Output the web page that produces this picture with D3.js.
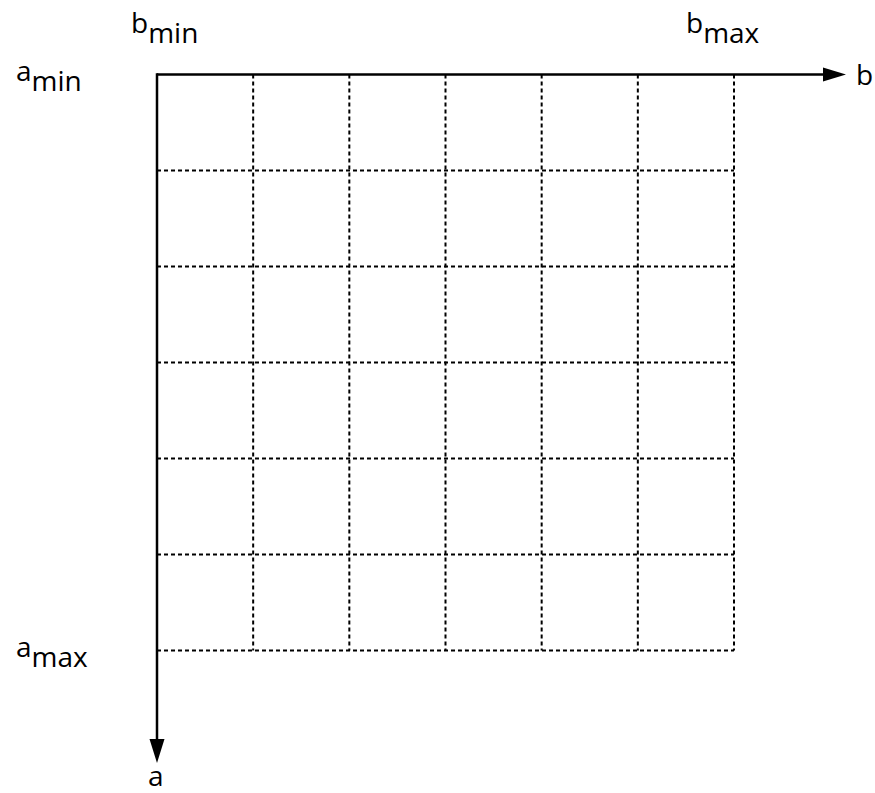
<!DOCTYPE html>
<html><head><meta charset="utf-8">
<script src="https://cdn.jsdelivr.net/npm/d3@7"></script>
<style>html,body{margin:0;padding:0;background:#fff;}</style>
</head><body>
<svg id="c" width="875" height="793"></svg>
<script>
// data
const bSteps = [0, 1, 2, 3, 4, 5, 6];
const aSteps = [0, 1, 2, 3, 4, 5, 6];
const bLabels = [{base: "b", sub: "min", v: 0}, {base: "b", sub: "max", v: 6}];
const aLabels = [{base: "a", sub: "min", v: 0}, {base: "a", sub: "max", v: 6}];
const axisNames = {b: "b", a: "a"};

const svg = d3.select("#c");
const font = "'Open Sans', 'Noto Sans', sans-serif";
const x = d3.scaleLinear().domain([0, 6]).range([157, 734]);
const y = d3.scaleLinear().domain([0, 6]).range([74.5, 650.5]);

// dashed grid
const g = svg.append("g").attr("stroke", "#000").attr("stroke-width", 2)
  .attr("stroke-dasharray", "4,3").attr("fill", "none");
g.selectAll("line.v").data(bSteps.slice(1)).join("line")
  .attr("x1", d => x(d)).attr("x2", d => x(d))
  .attr("y1", y(0)).attr("y2", y(6));
g.selectAll("line.h").data(aSteps.slice(1)).join("line")
  .attr("x1", x(0)).attr("x2", x(6))
  .attr("y1", d => y(d)).attr("y2", d => y(d));

// axes
svg.append("line").attr("x1", x(0)).attr("x2", 826).attr("y1", y(0)).attr("y2", y(0))
  .attr("stroke", "#000").attr("stroke-width", 2.5);
svg.append("path").attr("d", `M823,${y(0)-7} L846,${y(0)} L823,${y(0)+7} Z`).attr("fill", "#000");
svg.append("line").attr("x1", x(0)).attr("x2", x(0)).attr("y1", y(0) - 1.2).attr("y2", 742)
  .attr("stroke", "#000").attr("stroke-width", 2.5);
svg.append("path").attr("d", `M${x(0)-7.5},739 L${x(0)},763 L${x(0)+7.5},739 Z`).attr("fill", "#000");

function label(px, py, base, sub) {
  const t = svg.append("text").attr("x", px).attr("y", py)
    .attr("font-family", font).attr("font-size", 28).attr("fill", "#000");
  t.append("tspan").text(base);
  if (sub) t.append("tspan").attr("dy", 10).text(sub);
}
bLabels.forEach(d => label(x(d.v) - 26 + (d.v ? -22 : 0), 33, d.base, d.sub));
aLabels.forEach(d => label(16, y(d.v) + 6, d.base, d.sub));
label(856, 85, axisNames.b);
label(148, 786, axisNames.a);
</script>
</body></html>
